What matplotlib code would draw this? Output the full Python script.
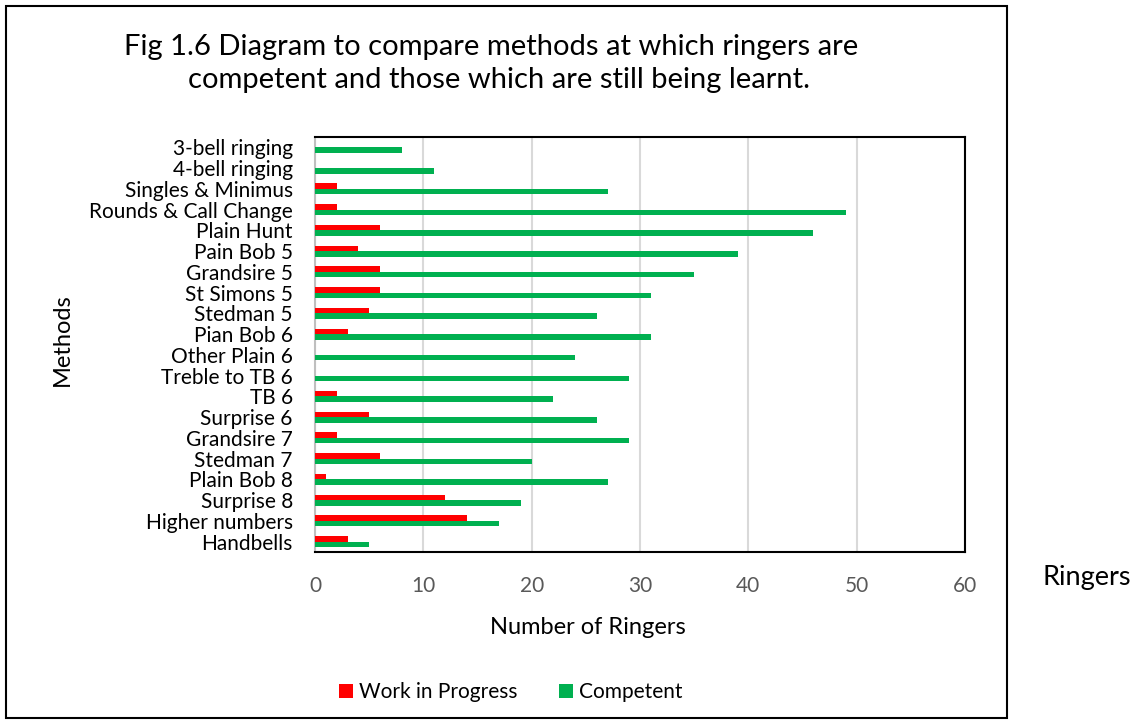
import matplotlib
matplotlib.use("Agg")
import matplotlib.pyplot as plt
from matplotlib.patches import Rectangle
import numpy as np

plt.rcParams['font.family'] = ['Lato', 'DejaVu Sans']

methods = ["3-bell ringing", "4-bell ringing", "Singles & Minimus", "Rounds & Call Change",
           "Plain Hunt", "Pain Bob 5", "Grandsire 5", "St Simons 5", "Stedman 5", "Pian Bob 6",
           "Other Plain 6", "Treble to TB 6", "TB 6", "Surprise 6", "Grandsire 7", "Stedman 7",
           "Plain Bob 8", "Surprise 8", "Higher numbers", "Handbells"]
work_in_progress = [0, 0, 2, 2, 6, 4, 6, 6, 5, 3, 0, 0, 2, 5, 2, 6, 1, 12, 14, 3]
competent = [8, 11, 27, 49, 46, 39, 35, 31, 26, 31, 24, 29, 22, 26, 29, 20, 27, 19, 17, 5]
x_ticks = [0, 10, 20, 30, 40, 50, 60]

W, H = 1144, 728
fig = plt.figure(figsize=(W / 100, H / 100), dpi=100)
ax = fig.add_axes([315 / W, 1 - 552 / H, (965 - 315) / W, (552 - 137) / H])

y = np.arange(len(methods))
h = 0.27
ax.barh(y - h / 2, work_in_progress, height=h, color='#FF0000', label='Work in Progress', zorder=3)
ax.barh(y + h / 2, competent, height=h, color='#00B050', label='Competent', zorder=3)

ax.set_ylim(len(methods) - 0.5, -0.5)
ax.set_xlim(0, 60)
ax.set_yticks(y)
ax.set_yticklabels(methods, fontsize=15)
ax.set_xticks(x_ticks)
ax.set_xticklabels([str(v) for v in x_ticks], fontsize=15, color='#595959')
ax.tick_params(axis='y', length=0, pad=16)
ax.tick_params(axis='x', length=0, pad=17)
ax.grid(axis='x', color='#D9D9D9', linewidth=1.5, zorder=0)
for s in ['top', 'right', 'bottom']:
    ax.spines[s].set_color('#000000')
    ax.spines[s].set_linewidth(1.5)
ax.spines['left'].set_color('#BFBFBF')
ax.spines['left'].set_linewidth(1.5)

fig.text(491 / W, 1 - 47 / H, "Fig 1.6 Diagram to compare methods at which ringers are",
         ha='center', va='center', fontsize=21)
fig.text(499 / W, 1 - 80 / H, "competent and those which are still being learnt.",
         ha='center', va='center', fontsize=21)
fig.text(588 / W, 1 - 627 / H, "Number of Ringers", ha='center', va='center', fontsize=17)
fig.text(62 / W, 1 - 340 / H, "Methods", ha='center', va='center', fontsize=17, rotation=90)
fig.text(1087 / W, 1 - 577 / H, "Ringers", ha='center', va='center', fontsize=19.5)

fig.legend(loc='center', bbox_to_anchor=(511 / W, 1 - 692 / H), ncol=2, frameon=False,
           fontsize=15, handlelength=0.65, handleheight=0.65, handletextpad=0.3,
           columnspacing=2.0)

fig.patches.append(Rectangle((6 / W, 1 - 718 / H), (1007 - 6) / W, (718 - 6) / H,
                             transform=fig.transFigure, fill=False, edgecolor='black',
                             linewidth=1.5, zorder=0))

fig.savefig("out.png", dpi=100)
